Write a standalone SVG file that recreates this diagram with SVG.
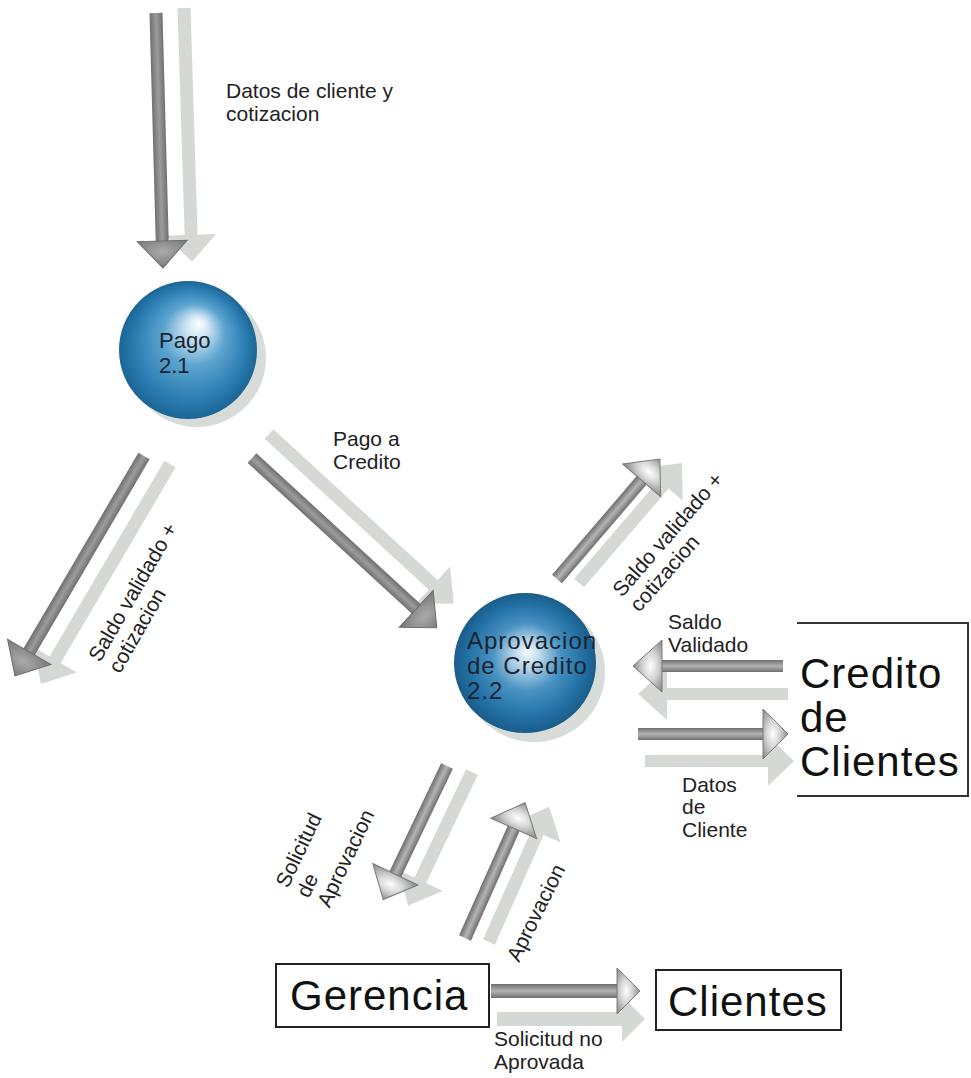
<svg xmlns="http://www.w3.org/2000/svg" width="971" height="1078" viewBox="0 0 971 1078">
<defs>
<style>
.lbl{font-family:"Liberation Sans",Arial,sans-serif;font-size:21px;fill:#222}
.big{font-family:"Liberation Sans",Arial,sans-serif;font-size:42px;letter-spacing:1px;fill:#111}
.in{font-family:"Liberation Sans",Arial,sans-serif;fill:#1b2530}
.sh{fill:#d5d9d5}
.shaft{fill:url(#gShaft)}
.head{fill:url(#gHead);stroke:#7a7a7a;stroke-width:1}
.dshaft{fill:url(#gDShaft)}
.dhead{fill:url(#gDHead);stroke:#6e6e6e;stroke-width:1}
.box{fill:#fff;stroke:#222;stroke-width:2}
</style>
<linearGradient id="gShaft" x1="0" y1="0" x2="0" y2="1">
<stop offset="0" stop-color="#6f6f6f"/><stop offset="0.5" stop-color="#b4b4b4"/><stop offset="1" stop-color="#6f6f6f"/>
</linearGradient>
<linearGradient id="gDShaft" x1="0" y1="0" x2="0" y2="1">
<stop offset="0" stop-color="#707070"/><stop offset="0.5" stop-color="#9c9c9c"/><stop offset="1" stop-color="#707070"/>
</linearGradient>
<radialGradient id="gHead" cx="0.4" cy="0.5" r="0.6">
<stop offset="0" stop-color="#ffffff"/><stop offset="0.45" stop-color="#d4d4d4"/><stop offset="1" stop-color="#8a8a8a"/>
</radialGradient>
<radialGradient id="gDHead" cx="0.4" cy="0.5" r="0.6">
<stop offset="0" stop-color="#ababab"/><stop offset="1" stop-color="#7a7a7a"/>
</radialGradient>
<radialGradient id="gBall1" cx="0.5" cy="0.5" r="0.5" fx="0.58" fy="0.3">
<stop offset="0" stop-color="#ffffff"/><stop offset="0.15" stop-color="#d2e7f3"/><stop offset="0.45" stop-color="#5ca4d0"/><stop offset="0.8" stop-color="#2b7db2"/><stop offset="1" stop-color="#1c6596"/>
</radialGradient>
<radialGradient id="gBall2" cx="0.5" cy="0.5" r="0.5" fx="0.52" fy="0.42">
<stop offset="0" stop-color="#f7fbfd"/><stop offset="0.18" stop-color="#bcd9eb"/><stop offset="0.48" stop-color="#4a93c3"/><stop offset="0.8" stop-color="#2371a6"/><stop offset="1" stop-color="#1a5c8a"/>
</radialGradient>
</defs>
<rect width="971" height="1078" fill="#ffffff"/>

<g id="connectors">
  <!-- shadows -->
  <polygon class="sh" transform="translate(184,8) rotate(88.2)" points="0,-6.5 227,-6.5 227,-25 254,0 227,25 227,6.5 0,6.5"/>
  <polygon class="sh" transform="translate(269,434) rotate(42.58)" points="0,-6.5 223,-6.5 223,-25 251,0 223,25 223,6.5 0,6.5"/>
  <polygon class="sh" transform="translate(170,464) rotate(120.4)" points="0,-6.5 227,-6.5 227,-25 255,0 227,25 227,6.5 0,6.5"/>
  <polygon class="sh" transform="translate(579,583) rotate(-49.36)" points="0,-6.5 130,-6.5 130,-25 158,0 130,25 130,6.5 0,6.5"/>
  <polygon class="sh" transform="translate(788,694) rotate(180)" points="0,-6 121,-6 121,-26 150,0 121,26 121,6 0,6"/>
  <polygon class="sh" transform="translate(645,761)" points="0,-6 123,-6 123,-25 149,0 123,25 123,6 0,6"/>
  <polygon class="sh" transform="translate(472,772) rotate(115.53)" points="0,-6.5 120,-6.5 120,-25 148,0 120,25 120,6.5 0,6.5"/>
  <polygon class="sh" transform="translate(489,942) rotate(-66.04)" points="0,-6.5 120,-6.5 120,-25 148,0 120,25 120,6.5 0,6.5"/>
  <polygon class="sh" transform="translate(497,1019)" points="0,-7 125,-7 125,-23 148,0 125,23 125,7 0,7"/>

  <!-- Datos de cliente y cotizacion -->
  <g transform="translate(156,13) rotate(88.43)">
    <rect class="dshaft" x="0" y="-6.5" width="229" height="13"/>
    <polygon class="dhead" points="228,-25 255,0 228,25"/>
  </g>
  <!-- Pago a Credito -->
  <g transform="translate(252,458) rotate(42.58)">
    <rect class="dshaft" x="0" y="-6.5" width="224" height="13"/>
    <polygon class="dhead" points="223,-25 251,0 223,25"/>
  </g>
  <!-- Saldo validado + cotizacion (left) -->
  <g transform="translate(144,456) rotate(120.4)">
    <rect class="dshaft" x="0" y="-6.5" width="228" height="13"/>
    <polygon class="dhead" points="227,-25 255,0 227,25"/>
  </g>
  <!-- Saldo validado + cotizacion (right) -->
  <g transform="translate(557,579) rotate(-49.36)">
    <rect class="shaft" x="0" y="-6.5" width="131" height="13"/>
    <polygon class="head" points="130,-25 158,0 130,25"/>
  </g>
  <!-- Saldo Validado -->
  <g transform="translate(783,666) rotate(180)">
    <rect class="shaft" x="0" y="-6" width="122" height="12"/>
    <polygon class="head" points="121,-26 150,0 121,26"/>
  </g>
  <!-- Datos de Cliente -->
  <g transform="translate(638,734)">
    <rect class="shaft" x="0" y="-6" width="126" height="12"/>
    <polygon class="head" points="125,-25 150,0 125,25"/>
  </g>
  <!-- Solicitud de Aprovacion -->
  <g transform="translate(447,766) rotate(115.53)">
    <rect class="shaft" x="0" y="-6.5" width="121" height="13"/>
    <polygon class="head" points="120,-25 148,0 120,25"/>
  </g>
  <!-- Aprovacion -->
  <g transform="translate(465,938) rotate(-66.04)">
    <rect class="shaft" x="0" y="-6.5" width="121" height="13"/>
    <polygon class="head" points="120,-25 148,0 120,25"/>
  </g>
  <!-- Solicitud no Aprovada -->
  <g transform="translate(491,991)">
    <rect class="shaft" x="0" y="-7" width="127" height="14"/>
    <polygon class="head" points="126,-23 149,0 126,23"/>
  </g>
</g>

<g id="labels">
  <text class="lbl" x="226" y="98">Datos de cliente y</text>
  <text class="lbl" x="226" y="121">cotizacion</text>
  <text class="lbl" x="333" y="446">Pago a</text>
  <text class="lbl" x="333" y="469">Credito</text>
  <g transform="translate(100,663) rotate(-60)">
    <text class="lbl" x="0" y="0">Saldo validado +</text>
    <text class="lbl" x="0" y="23">cotizacion</text>
  </g>
  <g transform="translate(622,598) rotate(-49)">
    <text class="lbl" x="0" y="0">Saldo validado +</text>
    <text class="lbl" x="0" y="23">cotizacion</text>
  </g>
  <text class="lbl" x="668" y="629">Saldo</text>
  <text class="lbl" x="668" y="652">Validado</text>
  <text class="lbl" x="682" y="792">Datos</text>
  <text class="lbl" x="682" y="814">de</text>
  <text class="lbl" x="682" y="837">Cliente</text>
  <g transform="translate(288,889) rotate(-64.5)">
    <text class="lbl" x="0" y="0">Solicitud</text>
    <text class="lbl" x="0" y="23">de</text>
    <text class="lbl" x="0" y="46">Aprovacion</text>
  </g>
  <g transform="translate(519,963) rotate(-63.7)">
    <text class="lbl" x="0" y="0">Aprovacion</text>
  </g>
  <text class="lbl" x="494" y="1046">Solicitud no</text>
  <text class="lbl" x="494" y="1069">Aprovada</text>
</g>

<g id="node-pago">
  <circle cx="197" cy="358" r="69" fill="#d8dcd8"/>
  <circle cx="188" cy="350" r="69" fill="url(#gBall1)"/>
  <text class="in" x="159" y="348" font-size="22">Pago</text>
  <text class="in" x="159" y="373" font-size="22">2.1</text>
</g>

<g id="node-aprovacion">
  <ellipse cx="534" cy="672" rx="71" ry="70" fill="#d8dcd8"/>
  <ellipse cx="525" cy="663" rx="71" ry="70" fill="url(#gBall2)"/>
  <text class="in" x="467" y="649" font-size="24" letter-spacing="1">Aprovacion</text>
  <text class="in" x="467" y="674" font-size="24" letter-spacing="1">de Credito</text>
  <text class="in" x="467" y="699" font-size="24" letter-spacing="1">2.2</text>
</g>

<g id="node-credito-clientes">
  <path d="M797,623 H968 V796 H797" fill="none" stroke="#333" stroke-width="2"/>
  <text class="big" x="800" y="688">Credito</text>
  <text class="big" x="800" y="732">de</text>
  <text class="big" x="800" y="776">Clientes</text>
</g>

<g id="node-gerencia">
  <rect class="box" x="276" y="964" width="213" height="63"/>
  <text class="big" x="290" y="1010">Gerencia</text>
</g>

<g id="node-clientes">
  <rect class="box" x="656" y="970" width="185" height="60"/>
  <text class="big" x="668" y="1016">Clientes</text>
</g>
</svg>
